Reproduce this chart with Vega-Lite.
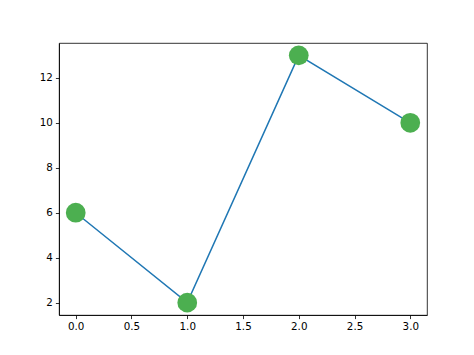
{
  "$schema": "https://vega.github.io/schema/vega-lite/v6.json",
  "width": 368,
  "height": 272,
  "autosize": {"type": "none"},
  "padding": {"left": 59, "top": 43, "right": 47, "bottom": 40},
  "background": "white",
  "config": {
    "view": {"stroke": "black", "strokeWidth": 0.8},
    "axis": {
      "grid": false,
      "domainColor": "black",
      "domainWidth": 0.8,
      "tickColor": "black",
      "tickWidth": 0.8,
      "tickSize": 3.6,
      "labelFont": "DejaVu Sans",
      "labelFontSize": 10.3,
      "labelColor": "black",
      "labelPadding": 3,
      "title": null
    }
  },
  "data": {"values": [
    {"x": 0, "y": 6},
    {"x": 1, "y": 2},
    {"x": 2, "y": 13},
    {"x": 3, "y": 10}
  ]},
  "encoding": {
    "x": {"field": "x", "type": "quantitative",
      "scale": {"domain": [-0.15, 3.15], "nice": false, "zero": false},
      "axis": {"values": [0, 0.5, 1, 1.5, 2, 2.5, 3], "format": ".1f"}},
    "y": {"field": "y", "type": "quantitative",
      "scale": {"domain": [1.45, 13.55], "nice": false, "zero": false},
      "axis": {"values": [2, 4, 6, 8, 10, 12], "format": "d"}}
  },
  "layer": [
    {"mark": {"type": "line", "color": "#1f77b4", "strokeWidth": 1.5}},
    {"mark": {"type": "point", "filled": true, "shape": "circle", "size": 390, "color": "#4caf50", "opacity": 1}}
  ]
}
